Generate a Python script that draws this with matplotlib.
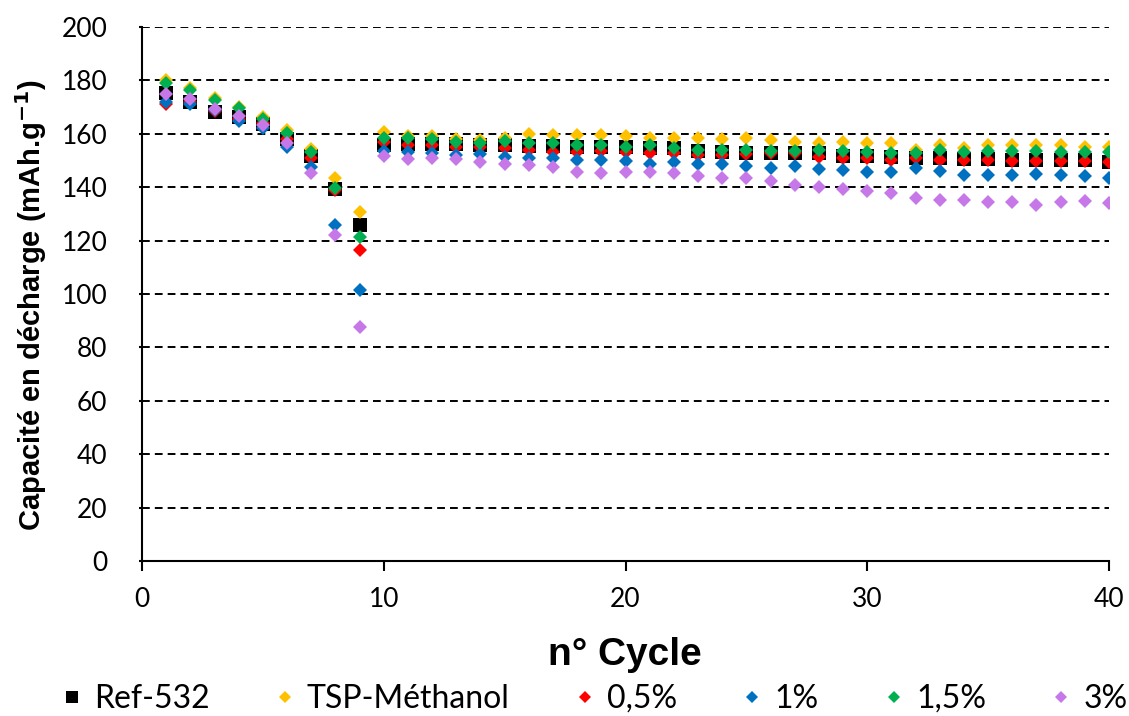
import matplotlib
matplotlib.use("Agg")
import matplotlib.pyplot as plt
import numpy as np

cycles = list(range(1, 41))

ref_532 = [175.4, 171.8, 168.3, 166.4, 163.6, 158.0, 151.7, 139.4, 126.0, 155.8,
           156.0, 156.0, 156.0, 155.8, 155.8, 155.6, 155.4, 155.2, 155.0, 155.0,
           154.8, 154.5, 153.5, 153.3, 152.7, 152.7, 152.7, 152.7, 151.8, 151.8,
           151.2, 151.0, 150.8, 150.4, 150.4, 150.2, 150.2, 150.2, 150.2, 149.6]
tsp_methanol = [180.0, 177.0, 173.5, 170.1, 166.4, 161.4, 154.4, 143.4, 130.7, 160.5,
                159.3, 159.3, 158.0, 157.5, 158.3, 159.8, 159.5, 159.5, 159.5, 159.3,
                158.5, 158.5, 158.5, 158.0, 158.3, 157.7, 157.0, 156.4, 156.8, 156.4,
                156.4, 154.0, 155.8, 154.5, 155.8, 155.8, 155.8, 155.8, 155.1, 155.1]
p05 = [171.0, 172.0, 168.5, 165.5, 164.0, 158.0, 150.9, 139.0, 116.4, 157.1,
       155.8, 155.8, 155.1, 155.1, 154.8, 153.9, 153.3, 153.3, 153.5, 153.3,
       152.7, 152.7, 152.0, 152.0, 152.3, 152.7, 152.7, 151.4, 151.0, 150.8,
       150.2, 150.8, 150.2, 150.2, 150.2, 149.8, 149.8, 149.8, 149.8, 149.3]
p1 = [172.0, 171.0, 168.8, 164.8, 162.0, 155.2, 147.4, 125.9, 101.4, 153.4,
      153.3, 152.7, 152.0, 152.3, 151.4, 150.8, 150.8, 150.2, 150.2, 149.8,
      148.6, 149.5, 148.6, 148.6, 148.0, 147.1, 148.1, 146.8, 146.4, 145.8,
      145.8, 147.1, 146.1, 144.6, 144.6, 144.6, 144.8, 144.6, 144.3, 143.6]
p15 = [178.9, 176.4, 172.6, 169.5, 165.5, 160.2, 153.0, 139.6, 121.4, 158.6,
       158.3, 158.0, 156.8, 156.4, 157.3, 156.4, 156.4, 155.8, 155.8, 155.1,
       155.8, 154.5, 153.9, 153.9, 153.9, 153.5, 153.5, 153.9, 153.5, 153.0,
       152.7, 152.7, 153.9, 153.0, 153.5, 153.5, 153.5, 153.0, 153.0, 153.0]
p3 = [175.0, 172.9, 169.3, 166.7, 163.3, 156.7, 145.3, 122.0, 87.8, 151.5,
      150.5, 150.8, 150.5, 149.5, 148.6, 148.3, 147.7, 145.8, 145.2, 145.8,
      145.8, 145.2, 144.3, 143.3, 143.6, 142.4, 140.8, 139.9, 139.4, 138.6,
      137.7, 136.1, 135.3, 135.3, 134.4, 134.4, 133.4, 134.4, 134.9, 134.0]

series = [
    ("Ref-532", ref_532, "#000000", "s", 10.5),
    ("TSP-Méthanol", tsp_methanol, "#FFC000", "D", 7),
    ("0,5%", p05, "#FF0000", "D", 7),
    ("1%", p1, "#0070C0", "D", 7),
    ("1,5%", p15, "#00B050", "D", 7),
    ("3%", p3, "#C678E8", "D", 7),
]

fig = plt.figure(figsize=(11.29, 7.16), dpi=100)
ax = fig.add_axes([142 / 1129, 1 - 561 / 716, 967 / 1129, 534 / 716])

for name, vals, col, mk, ms in series:
    ax.plot(cycles, vals, linestyle="none", marker=mk, markersize=ms,
            color=col, markeredgewidth=0, label=name)

ax.set_xlim(0, 40)
ax.set_ylim(0, 200)
ax.set_xticks(np.arange(0, 41, 10))
ax.set_yticks(np.arange(0, 201, 20))
for y in range(20, 201, 20):
    ax.axhline(y, color="black", linestyle=(0, (4, 2.6)), linewidth=1.4, zorder=0)

for s in ["top", "right"]:
    ax.spines[s].set_visible(False)
for s in ["left", "bottom"]:
    ax.spines[s].set_linewidth(1.5)

ax.tick_params(axis="x", labelsize=19, length=7, width=1.5, direction="out", pad=12)
ax.tick_params(axis="y", labelsize=19, length=2, width=1.5, direction="out", pad=23)
for lbl in ax.get_xticklabels() + ax.get_yticklabels():
    lbl.set_family("Lato")

fig.text(31 / 1129, 0.574, "Capacité en décharge (mAh.g$^{\\mathbf{-1}}$)",
         rotation=90, ha="center", va="center", fontsize=21,
         fontweight="bold", family="Liberation Sans")
fig.text(625 / 1129, 1 - 655 / 716, "n° Cycle", ha="center", va="center",
         fontsize=28, fontweight="bold", family="Liberation Sans")

leg = fig.legend(loc="center", bbox_to_anchor=(0.527, 0.024), ncol=6,
                 frameon=False, prop={"family": "Lato", "size": 23},
                 handletextpad=0.4, columnspacing=2.05, markerscale=0.85,
                 handlelength=0.6, borderpad=0.1)

fig.savefig("out.png", dpi=100)
